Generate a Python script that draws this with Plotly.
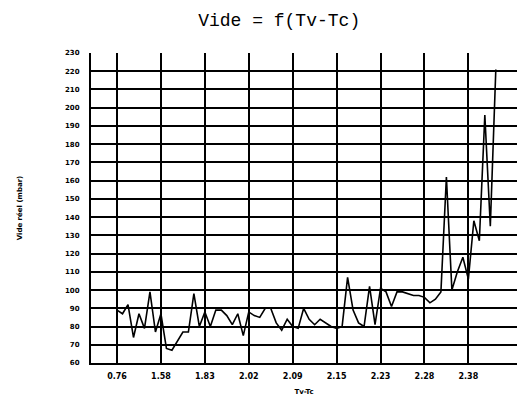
import plotly.graph_objects as go

# Data (vacuum vs Tv-Tc, sequential samples)
vide = [89, 87, 92, 74, 87, 79, 99, 77, 87, 68,
        67, 72, 77, 77, 98, 80, 88, 80, 89, 89,
        86, 81, 87, 75, 88, 86, 85, 90, 90, 82,
        78, 84, 80, 79, 90, 84, 81, 84, 82, 80,
        79, 80, 107, 89, 82, 80, 102, 81, 101, 99,
        91, 99, 99, 98, 97, 97, 96, 93, 95, 99,
        162, 100, 110, 118, 106, 138, 127, 196, 135, 221]
sample_index = list(range(len(vide)))
tick_positions = [0, 8, 16, 24, 32, 40, 48, 56, 64]
tick_labels = ["0.76", "1.58", "1.83", "2.02", "2.09", "2.15", "2.23", "2.28", "2.38"]
y_ticks = list(range(60, 231, 10))

fig = go.Figure()
fig.add_trace(go.Scatter(
    x=sample_index, y=vide, mode="lines",
    line=dict(color="black", width=1.6), showlegend=False,
))

fig.update_layout(
    width=517, height=397,
    margin=dict(l=91, r=0, t=53, b=34),
    paper_bgcolor="white", plot_bgcolor="white",
    title=dict(text="Vide = f(Tv-Tc)", x=0.54, xanchor="center", y=0.95, yanchor="middle",
               font=dict(family="Liberation Mono", size=18, color="black")),
    font=dict(family="DejaVu Sans", color="black"),
)
fig.update_xaxes(
    range=[-4.74, 72.86],
    tickmode="array", tickvals=tick_positions, ticktext=tick_labels,
    tickfont=dict(family="DejaVu Sans", size=8, weight="bold"),
    showgrid=True, gridcolor="black", gridwidth=1.8,
    showline=True, linecolor="black", linewidth=2,
    ticks="", ticklabelstandoff=4,
    zeroline=False,
    title=dict(text="Tv-Tc", font=dict(family="DejaVu Sans", size=7, weight="bold"), standoff=10),
)
fig.update_yaxes(
    range=[60, 230],
    tickmode="array", tickvals=y_ticks,
    tickfont=dict(family="DejaVu Sans", size=7, weight="bold"),
    showgrid=True, gridcolor="black", gridwidth=1.8,
    showline=True, linecolor="black", linewidth=2,
    ticks="", ticklabelstandoff=8,
    zeroline=False,
    title=dict(text="Vide réel (mbar)", font=dict(family="DejaVu Sans", size=7, weight="bold"), standoff=42),
)

fig.write_html("out.html")
